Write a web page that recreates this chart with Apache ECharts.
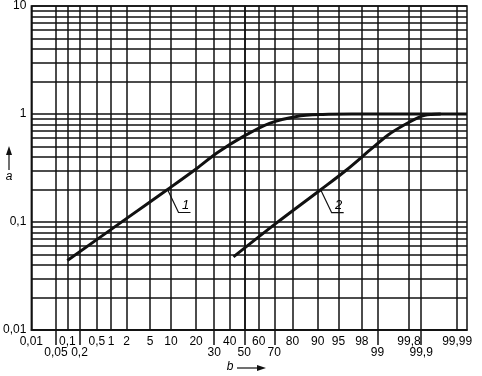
<!DOCTYPE html>
<html>
<head>
<meta charset="utf-8">
<script src="https://cdn.jsdelivr.net/npm/echarts@6/dist/echarts.min.js"></script>
<style>
  html, body { margin: 0; padding: 0; background: #fff; }
  #chart { width: 482px; height: 376px; }
</style>
</head>
<body>
<div id="chart"></div>
<script>
var curve1B = [0.1, 2, 9, 20.5, 31.6, 49.4, 67, 82, 91.5, 97, 99.995];
var curve1A = [0.044, 0.108, 0.2, 0.315, 0.435, 0.62, 0.82, 0.95, 0.99, 1.0, 1.0];
var curve2B = [42.5, 71, 90.9, 96.2, 98.62, 99.41, 99.75, 99.9, 99.946, 99.97];
var curve2A = [0.0475, 0.097, 0.199, 0.3, 0.467, 0.643, 0.8, 0.952, 0.99, 1.0];

// x tick labels, upper row and lower row
var bTicksUpper = [0.01, 0.1, 0.5, 1, 2, 5, 10, 20, 40, 60, 80, 90, 95, 98, 99.8, 99.99];
var bTicksLower = [0.05, 0.2, 30, 50, 70, 99, 99.9];
// y
var aTicks = [0.01, 0.1, 1, 10];
var aGrid = [0.01, 0.02, 0.03, 0.04, 0.05, 0.06, 0.07, 0.08, 0.09,
             0.1, 0.2, 0.3, 0.4, 0.5, 0.6, 0.7, 0.8, 0.9,
             1, 2, 3, 4, 5, 6, 7, 8, 9, 10];

// inverse normal (probability paper scale)
function probit(p) {
  var a = [-3.969683028665376e+01, 2.209460984245205e+02, -2.759285104469687e+02, 1.383577518672690e+02, -3.066479806614716e+01, 2.506628277459239e+00];
  var b = [-5.447609879822406e+01, 1.615858368580409e+02, -1.556989798598866e+02, 6.680131188771972e+01, -1.328068155288572e+01];
  var c = [-7.784894002430293e-03, -3.223964580411365e-01, -2.400758277161838e+00, -2.549732539343734e+00, 4.374664141464968e+00, 2.938163982698783e+00];
  var d = [7.784695709041462e-03, 3.224671290700398e-01, 2.445134137142996e+00, 3.754408661907416e+00];
  var pl = 0.02425, q, r;
  if (p < pl) {
    q = Math.sqrt(-2 * Math.log(p));
    return (((((c[0]*q+c[1])*q+c[2])*q+c[3])*q+c[4])*q+c[5]) / ((((d[0]*q+d[1])*q+d[2])*q+d[3])*q+1);
  }
  if (p > 1 - pl) {
    q = Math.sqrt(-2 * Math.log(1 - p));
    return -(((((c[0]*q+c[1])*q+c[2])*q+c[3])*q+c[4])*q+c[5]) / ((((d[0]*q+d[1])*q+d[2])*q+d[3])*q+1);
  }
  q = p - 0.5; r = q * q;
  return (((((a[0]*r+a[1])*r+a[2])*r+a[3])*r+a[4])*r+a[5])*q / (((((b[0]*r+b[1])*r+b[2])*r+b[3])*r+b[4])*r+1);
}
function zOf(pct) { return probit(pct / 100); }
function fmt(v) { return String(v).replace('.', ','); }
// find the % label that sits at a z value
function bLabel(z) {
  var all = bTicksUpper.concat(bTicksLower), best = all[0];
  all.forEach(function (t) { if (Math.abs(zOf(t) - z) < Math.abs(zOf(best) - z)) best = t; });
  return fmt(best);
}

var zMin = zOf(0.01);
var zMax = zOf(99.995);
var zUpper = bTicksUpper.map(zOf);
var zLower = bTicksLower.map(zOf);
var zAll = zUpper.concat(zLower);

var ink = '#111';
var font = 'Liberation Sans';

function toSeries(bs, as) {
  return bs.map(function (b, i) { return [zOf(b), as[i]]; });
}

var myChart = echarts.init(document.getElementById('chart'));
var option = {
  animation: false,
  textStyle: { fontFamily: font },
  grid: { left: 28, right: 15, top: 6, bottom: 46, show: true, borderColor: ink, borderWidth: 1.5 },
  xAxis: [
    {
      type: 'value', min: zMin, max: zMax,
      axisLine: { show: true, lineStyle: { color: ink, width: 1.5 } },
      axisTick: { show: false, customValues: zAll },
      axisLabel: { customValues: zUpper, formatter: bLabel, color: '#000', fontSize: 12, margin: 6, hideOverlap: false },
      splitLine: { show: true, lineStyle: { color: ink, width: 1.5 } }
    },
    {
      type: 'value', min: zMin, max: zMax, position: 'bottom',
      axisLine: { show: false },
      axisTick: { show: true, customValues: zLower, length: 15, lineStyle: { color: ink, width: 1.5 } },
      axisLabel: { customValues: zLower, formatter: bLabel, color: '#000', fontSize: 12, margin: 17, hideOverlap: false },
      splitLine: { show: false }
    }
  ],
  yAxis: {
    type: 'log', logBase: 10, min: 0.01, max: 10,
    axisLine: { show: true, lineStyle: { color: ink, width: 1.5 } },
    axisTick: { show: false, customValues: aGrid },
    axisLabel: { customValues: aTicks, formatter: fmt, color: '#000', fontSize: 12, margin: 5 },
    splitLine: { show: true, lineStyle: { color: ink, width: 1.5 } }
  },
  series: [
    {
      name: '1', type: 'line', data: toSeries(curve1B, curve1A),
      showSymbol: false, smooth: 0.3,
      lineStyle: { color: ink, width: 3 }
    },
    {
      name: '2', type: 'line', data: toSeries(curve2B, curve2A),
      showSymbol: false, smooth: 0.3,
      lineStyle: { color: ink, width: 3 }
    }
  ]
};
myChart.setOption(option);

// leader lines with curve numbers, anchored on the curves
function leader(b, a, text) {
  var p = myChart.convertToPixel({ gridIndex: 0 }, [zOf(b), a]);
  return [
    { type: 'polyline', shape: { points: [[p[0], p[1]], [p[0] + 11, p[1] + 23], [p[0] + 23, p[1] + 23]] },
      style: { stroke: ink, lineWidth: 1.2, fill: null } },
    { type: 'text', x: p[0] + 18, y: p[1] + 16,
      style: { text: text, font: 'italic 13px ' + font, fill: '#000', align: 'center', verticalAlign: 'middle' } }
  ];
}
var g = [];
g = g.concat(leader(9, 0.2, '1'));
g = g.concat(leader(90.9, 0.199, '2'));
// axis names with arrows
g.push(
  { type: 'line', shape: { x1: 9, y1: 170, x2: 9, y2: 153 }, style: { stroke: ink, lineWidth: 1.2 } },
  { type: 'polygon', shape: { points: [[9, 146], [6, 155], [12, 155]] }, style: { fill: ink } },
  { type: 'text', x: 9, y: 177, style: { text: 'a', font: 'italic 12px ' + font, fill: '#000', align: 'center', verticalAlign: 'middle' } },
  { type: 'text', x: 230, y: 367, style: { text: 'b', font: 'italic 12px ' + font, fill: '#000', align: 'center', verticalAlign: 'middle' } },
  { type: 'line', shape: { x1: 237, y1: 368, x2: 258, y2: 368 }, style: { stroke: ink, lineWidth: 1.2 } },
  { type: 'polygon', shape: { points: [[266, 368], [257, 365], [257, 371]] }, style: { fill: ink } }
);
myChart.setOption({ graphic: g });
window.onresize = myChart.resize;
</script>
</body>
</html>
